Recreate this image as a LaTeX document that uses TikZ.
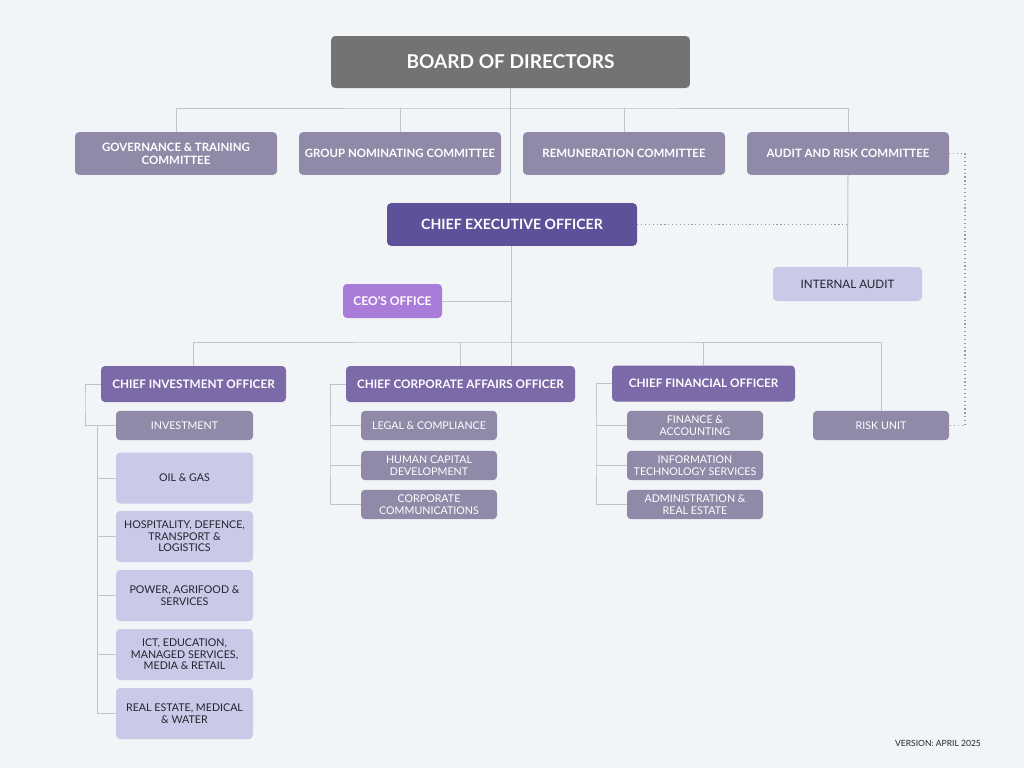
\documentclass[tikz,border=0pt]{standalone}
\usepackage{fontspec}
\setmainfont{Lato}
\definecolor{page}{HTML}{F1F5F8}
\definecolor{board}{HTML}{737373}
\definecolor{mauve}{HTML}{9189A8}
\definecolor{chief}{HTML}{5D5199}
\definecolor{officer}{HTML}{7B69A8}
\definecolor{office}{HTML}{A87CD8}
\definecolor{lilac}{HTML}{C9CAE8}
\definecolor{ink}{HTML}{23232E}
\definecolor{wire}{HTML}{BFC3CA}
\begin{document}
\begin{tikzpicture}[x=0.75pt,y=-0.75pt,
  box/.style={rounded corners=3pt,text=white,align=center,inner sep=0pt},
  headbox/.style={box,fill=mauve,font=\bfseries\fontsize{8.6}{9.6}\selectfont,minimum width=151.5pt,minimum height=32pt},
  chiefbox/.style={box,fill=officer,font=\bfseries\fontsize{8.8}{10}\selectfont,minimum height=27pt},
  unitbox/.style={box,fill=mauve,font=\fontsize{8}{8.9}\selectfont,minimum width=102pt,minimum height=22pt},
  sectorbox/.style={box,fill=lilac,text=ink,font=\fontsize{8}{8.7}\selectfont,minimum width=102.75pt,minimum height=38.25pt},
  wireline/.style={draw=wire,line width=0.75pt},
  dotline/.style={draw=black!40,line width=0.9pt,dotted}]
  \fill[page] (0,0) rectangle (1024,768);
  % top level
  \node[box,fill=board,font=\bfseries\fontsize{14.3}{16}\selectfont,minimum width=269pt,minimum height=39pt] (board) at (510.5,62) {BOARD OF DIRECTORS};
  \node[headbox] (gov) at (176,153.5) {GOVERNANCE \& TRAINING\\COMMITTEE};
  \node[headbox] (nom) at (400,153.5) {GROUP NOMINATING COMMITTEE};
  \node[headbox] (rem) at (624,153.5) {REMUNERATION COMMITTEE};
  \node[headbox] (audit) at (848,153.5) {AUDIT AND RISK COMMITTEE};
  \node[box,fill=chief,font=\bfseries\fontsize{10.6}{12}\selectfont,minimum width=187.5pt,minimum height=32pt] (ceo) at (512,224.5) {CHIEF EXECUTIVE OFFICER};
  \node[box,fill=lilac,text=ink,font=\fontsize{8.7}{10}\selectfont,minimum width=111.75pt,minimum height=25.5pt] (iaudit) at (847.5,284) {INTERNAL AUDIT};
  \node[box,fill=office,font=\bfseries\fontsize{9}{10}\selectfont,minimum width=74.25pt,minimum height=25.5pt] (ceooff) at (392.5,301) {CEO'S OFFICE};
  % officers
  \node[chiefbox,minimum width=138.75pt] (cio) at (193.5,384) {CHIEF INVESTMENT OFFICER};
  \node[chiefbox,minimum width=171.75pt] (ccao) at (460.5,384) {CHIEF CORPORATE AFFAIRS OFFICER};
  \node[chiefbox,minimum width=137.25pt] (cfo) at (703.5,383.5) {CHIEF FINANCIAL OFFICER};
  \node[unitbox] (risk) at (881,425.5) {RISK UNIT};
  \node[unitbox,minimum width=102.75pt] (inv) at (184.5,425.5) {INVESTMENT};
  \node[sectorbox] (oil) at (184.5,478) {OIL \& GAS};
  \node[sectorbox] (hosp) at (184.5,536.5) {HOSPITALITY, DEFENCE,\\TRANSPORT \&\\LOGISTICS};
  \node[sectorbox] (power) at (184.5,595.5) {POWER, AGRIFOOD \&\\SERVICES};
  \node[sectorbox] (ict) at (184.5,654.5) {ICT, EDUCATION,\\MANAGED SERVICES,\\MEDIA \& RETAIL};
  \node[sectorbox] (real) at (184.5,713.5) {REAL ESTATE, MEDICAL\\\& WATER};
  \node[unitbox] (legal) at (429,425.5) {LEGAL \& COMPLIANCE};
  \node[unitbox] (hcd) at (429,465.5) {HUMAN CAPITAL\\DEVELOPMENT};
  \node[unitbox] (comm) at (429,504.5) {CORPORATE\\COMMUNICATIONS};
  \node[unitbox] (fin) at (695,425.5) {FINANCE \&\\ACCOUNTING};
  \node[unitbox] (its) at (695,465.5) {INFORMATION\\TECHNOLOGY SERVICES};
  \node[unitbox] (admin) at (695,504.5) {ADMINISTRATION \&\\REAL ESTATE};
  \node[text=ink,font=\fontsize{6.4}{7}\selectfont] (version) at (938,743) {VERSION: APRIL 2025};
  % bends
  \coordinate (bus1) at (511,108);
  \coordinate (bus2) at (511,342);
  \coordinate (dotr) at (965,300);
  \coordinate (cioL) at (85,400);
  \coordinate (cioS) at (97,425.5);
  \coordinate (ccaoL) at (330,450);
  \coordinate (cfoL) at (596,450);
  % wires
  \draw[wireline] (board.south) -- (board.south |- ceo.north);
  \draw[wireline] (gov.north) |- (bus1) -| (audit.north);
  \foreach \c in {nom,rem}
    \draw[wireline] (\c.north) -- (\c.north |- bus1);
  \draw[wireline] (audit.south) -- (iaudit.north);
  \draw[wireline] (ceo.south -| bus2) -- (bus2 |- ccao.north);
  \draw[wireline] (ceooff.east) -- (ceooff.east -| bus2);
  \draw[wireline] (cio.north) |- (bus2) -| (risk.north);
  \foreach \c in {ccao,cfo}
    \draw[wireline] (\c.north) -- (\c.north |- bus2);
  \draw[wireline] (cio.west) -| (cioL) |- (inv.west);
  \draw[wireline] (cioS) |- (real.west);
  \foreach \s in {oil,hosp,power,ict}
    \draw[wireline] (cioS |- \s.west) -- (\s.west);
  \draw[wireline] (ccao.west) -| (ccaoL) |- (comm.west);
  \foreach \s in {legal,hcd}
    \draw[wireline] (ccaoL |- \s.west) -- (\s.west);
  \draw[wireline] (cfo.west) -| (cfoL) |- (admin.west);
  \foreach \s in {fin,its}
    \draw[wireline] (cfoL |- \s.west) -- (\s.west);
  \draw[dotline] (ceo.east) -- (ceo.east -| audit.south);
  \draw[dotline] (audit.east) -| (dotr) |- (risk.east);
\end{tikzpicture}
\end{document}
